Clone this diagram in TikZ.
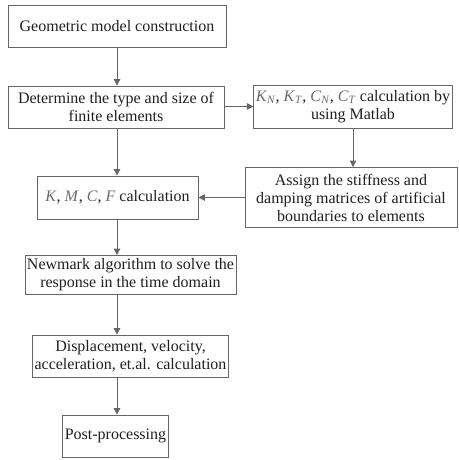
\documentclass[tikz,border=0pt]{standalone}
\usepackage{fontspec}
\setmainfont{Liberation Serif}
\usepackage{tikz}
\usetikzlibrary{arrows.meta}

\definecolor{boxline}{gray}{0.4}
\definecolor{boxtext}{gray}{0.12}
\definecolor{symtext}{gray}{0.42}

\newcommand{\qsym}[1]{\textcolor{symtext}{\textit{#1}}}
\newcommand{\qsub}[2]{\textcolor{symtext}{\textit{#1}\textsubscript{\textit{#2}}}}

\tikzset{
  stepbox/.style={draw=boxline, line width=0.8pt, text=boxtext, align=center,
    inner sep=2pt, font=\fontsize{16}{18}\selectfont},
  flow/.style={draw=boxline, line width=0.8pt, -{Triangle[length=6.5pt,width=6.5pt]}}
}

\begin{document}
\begin{tikzpicture}[x=1pt,y=1pt]
  \useasboundingbox (0,0) rectangle (458,-460);

  % left column
  \node[stepbox, minimum width=218, minimum height=42] (geo) at (117,-26)
    {Geometric model construction};
  \node[stepbox, minimum width=216, minimum height=42] (det) at (116,-107)
    {Determine the type and size of\\finite elements};
  \node[stepbox, minimum width=161, minimum height=43] (kmcf) at (117.5,-197.5)
    {\qsym{K}, \qsym{M}, \qsym{C}, \qsym{F} calculation};
  \node[stepbox, minimum width=188, minimum height=39] (newmark) at (130.5,-275)
    {Newmark algorithm to solve the\\response in the time domain};
  \node[stepbox, minimum width=188, minimum height=42] (disp) at (130.5,-356)
    {Displacement, velocity,\\acceleration, et.al. calculation};
  \node[stepbox, minimum width=105, minimum height=42] (post) at (115.5,-436)
    {Post-processing};
  \coordinate (spine) at (117,0);

  % right column
  \node[stepbox, minimum width=196, minimum height=43] (kn) at (353,-106.5)
    {\qsub{K}{N}, \qsub{K}{T}, \qsub{C}{N}, \qsub{C}{T} calculation by\\using Matlab};
  \node[stepbox, minimum width=212, minimum height=60] (assign) at (351,-197.5)
    {Assign the stiffness and\\damping matrices of artificial\\boundaries to elements};

  % connectors
  \draw[flow] (geo.south -| spine) -- (det.north -| spine);
  \draw[flow] (det.south -| spine) -- (kmcf.north -| spine);
  \draw[flow] (kmcf.south -| spine) -- (newmark.north -| spine);
  \draw[flow] (newmark.south -| spine) -- (disp.north -| spine);
  \draw[flow] (disp.south -| spine) -- (post.north -| spine);
  \draw[flow] (det.east |- kn.west) -- (kn.west);
  \draw[flow] (kn.south) -- (kn.south |- assign.north);
  \draw[flow] (assign.west) -- (kmcf.east);
\end{tikzpicture}
\end{document}
